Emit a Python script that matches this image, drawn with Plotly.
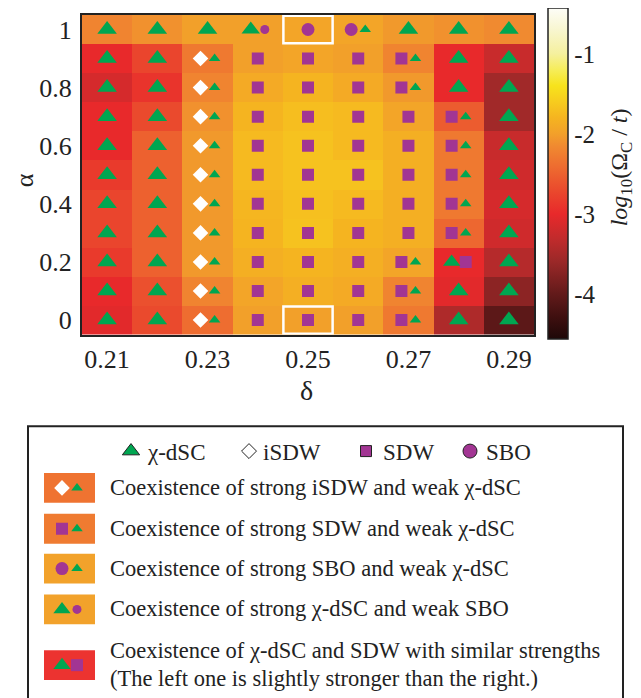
import plotly.graph_objects as go

# ---------------- data ----------------
deltas = [0.21, 0.22, 0.23, 0.24, 0.25, 0.26, 0.27, 0.28, 0.29]
alphas = [0.0, 0.1, 0.2, 0.3, 0.4, 0.5, 0.6, 0.7, 0.8, 0.9, 1.0]

# log10(Omega_C / t), rows = alpha (0 -> 1), cols = delta
z_a00 = [-3.05, -2.70, -2.40, -2.00, -2.00, -2.00, -2.30, -3.45, -4.05]
z_a01 = [-3.00, -2.65, -2.20, -1.95, -1.85, -1.90, -2.20, -3.05, -3.70]
z_a02 = [-2.85, -2.50, -2.05, -1.85, -1.80, -1.85, -1.95, -3.00, -3.40]
z_a03 = [-2.75, -2.50, -2.05, -1.80, -1.68, -1.80, -1.85, -2.45, -3.20]
z_a04 = [-2.75, -2.50, -2.05, -1.78, -1.70, -1.75, -1.85, -2.30, -3.15]
z_a05 = [-2.85, -2.50, -2.05, -1.75, -1.68, -1.68, -1.85, -2.30, -3.20]
z_a06 = [-3.00, -2.50, -2.05, -1.75, -1.68, -1.75, -1.85, -2.30, -3.25]
z_a07 = [-3.00, -2.70, -2.10, -1.80, -1.72, -1.75, -1.95, -2.55, -3.55]
z_a08 = [-3.15, -2.90, -2.20, -1.90, -1.80, -1.90, -2.05, -3.00, -3.55]
z_a09 = [-3.00, -2.75, -2.30, -2.00, -1.95, -2.00, -2.20, -3.00, -3.25]
z_a10 = [-2.20, -2.10, -2.00, -2.00, -1.95, -1.95, -2.05, -2.10, -2.15]
z_grid = [z_a00, z_a01, z_a02, z_a03, z_a04, z_a05, z_a06, z_a07, z_a08, z_a09, z_a10]

# phase codes per cell
# T: chi-dSC, S: SDW, C: SBO, Dt: strong iSDW + weak dSC, St: strong SDW + weak dSC,
# Tc: strong dSC + weak SBO, Ct: strong SBO + weak dSC, TS: dSC ~ SDW
p_a00 = ["T", "T", "Dt", "S", "S", "S", "St", "T", "T"]
p_a01 = ["T", "T", "Dt", "S", "S", "S", "St", "T", "T"]
p_a02 = ["T", "T", "Dt", "S", "S", "S", "St", "TS", "T"]
p_a03 = ["T", "T", "Dt", "S", "S", "S", "S", "St", "T"]
p_a04 = ["T", "T", "Dt", "S", "S", "S", "S", "St", "T"]
p_a05 = ["T", "T", "Dt", "S", "S", "S", "S", "St", "T"]
p_a06 = ["T", "T", "Dt", "S", "S", "S", "S", "St", "T"]
p_a07 = ["T", "T", "Dt", "S", "S", "S", "S", "St", "T"]
p_a08 = ["T", "T", "Dt", "S", "S", "S", "St", "T", "T"]
p_a09 = ["T", "T", "Dt", "S", "S", "S", "St", "T", "T"]
p_a10 = ["T", "T", "T", "Tc", "C", "Ct", "T", "T", "T"]
phase_grid = [p_a00, p_a01, p_a02, p_a03, p_a04, p_a05, p_a06, p_a07, p_a08, p_a09, p_a10]

highlight_cells = [(0.25, 1.0), (0.25, 0.0)]

x_tick_vals = [0.21, 0.23, 0.25, 0.27, 0.29]
x_tick_text = ["0.21", "0.23", "0.25", "0.27", "0.29"]
y_tick_vals = [0.0, 0.2, 0.4, 0.6, 0.8, 1.0]
y_tick_text = ["0", "0.2", "0.4", "0.6", "0.8", "1"]
cb_tick_vals = [-4, -3, -2, -1]
cb_tick_text = ["-4", "-3", "-2", "-1"]

legend_header = ["χ-dSC", "iSDW", "SDW", "SBO"]
legend_rows = [
    "Coexistence of strong iSDW and weak χ-dSC",
    "Coexistence of strong SDW and weak χ-dSC",
    "Coexistence of strong SBO and weak χ-dSC",
    "Coexistence of strong χ-dSC and weak SBO",
    "Coexistence of χ-dSC and SDW with similar strengths",
]
legend_row5_extra = "(The left one is slightly stronger than the right.)"
legend_row_codes = ["Dt", "St", "Ct", "Tc", "TS"]

# ---------------- style ----------------
OFF = 8                      # browser body margin
SW, SH = 641, 698            # screen size
W, H = SW - OFF, SH - OFF    # figure size
FONT = "Liberation Serif"
GREEN = "#00a651"
PURPLE = "#a23593"
ZMIN, ZMAX = -4.56, -0.43


def fx(s):  # screen x -> paper fraction
    return (s - OFF) / W


def fy(s):  # screen y -> paper fraction
    return 1 - (s - OFF) / H


stops = [
    (-4.56, "#1e0808"), (-4.30, "#3d0f0f"), (-4.00, "#621a1a"), (-3.60, "#9a2828"),
    (-3.30, "#c22b2c"), (-3.00, "#e8292b"), (-2.70, "#ea4a2d"), (-2.40, "#ee6d30"),
    (-2.15, "#f08a30"), (-2.00, "#f2a02a"), (-1.80, "#f5b420"), (-1.60, "#f7cc1e"),
    (-1.40, "#f7e31c"), (-1.20, "#f6ed5a"), (-1.00, "#f5f09e"), (-0.70, "#f8f6d0"),
    (-0.43, "#fdfdf8"),
]
colorscale = [[(v - ZMIN) / (ZMAX - ZMIN), c] for v, c in stops]

# marker definitions: code -> list of (kind, offset sign, size)
code_parts = {
    "T": [("tri", 0, 17)],
    "C": [("circ", 0, 13)],
    "S": [("sq", 0, 12)],
    "Dt": [("dia", -1, 12), ("tri", 1, 10)],
    "St": [("sq", -1, 12), ("tri", 1, 10)],
    "Tc": [("tri", -1, 16), ("circ", 1, 9)],
    "Ct": [("circ", -1, 13), ("tri", 1, 10)],
    "TS": [("tri", -1, 15), ("sq", 1, 12)],
}
kind_style = {
    "tri": ("triangle-up", GREEN),
    "circ": ("circle", PURPLE),
    "sq": ("square", PURPLE),
    "dia": ("diamond", "white"),
}

fig = go.Figure()

fig.add_trace(go.Heatmap(
    x=deltas, y=alphas, z=z_grid, zmin=ZMIN, zmax=ZMAX,
    colorscale=colorscale, hoverinfo="skip",
    colorbar=dict(
        x=fx(548), xanchor="left", y=fy(171.5), yanchor="middle",
        len=331, lenmode="pixels", thickness=20, thicknessmode="pixels",
        xpad=0, ypad=0,
        outlinecolor="#222", outlinewidth=1.5,
        tickvals=cb_tick_vals, ticktext=cb_tick_text, ticks="",
        tickfont=dict(family=FONT, size=25, color="#222"),
    ),
))

# markers on heatmap
dx = deltas[1] - deltas[0]
groups = {}
for i, a in enumerate(alphas):
    for j, d in enumerate(deltas):
        for kind, sgn, size in code_parts[phase_grid[i][j]]:
            key = (kind, size)
            groups.setdefault(key, ([], []))
            groups[key][0].append(d + sgn * 0.14 * dx)
            groups[key][1].append(a)
for (kind, size), (xs, ys) in groups.items():
    sym, col = kind_style[kind]
    fig.add_trace(go.Scatter(
        x=xs, y=ys, mode="markers", hoverinfo="skip",
        marker=dict(symbol=sym, size=size, color=col, line=dict(width=0)),
    ))

dy = alphas[1] - alphas[0]
for (hd, ha) in highlight_cells:
    fig.add_shape(type="rect", xref="x", yref="y",
                  x0=hd - dx / 2 + 0.0001, x1=hd + dx / 2 - 0.0001,
                  y0=ha - dy / 2 + 0.003, y1=ha + dy / 2 - 0.003,
                  line=dict(color="white", width=2.5))

# ---------------- legend (screen-pixel axes) ----------------
LX = dict(xaxis="x2", yaxis="y2")
fig.add_shape(type="rect", xref="x2", yref="y2", x0=28, x1=623, y0=425, y1=720,
              line=dict(color="#222", width=2))

hdr_y = 450
hdr_marker_x = [131, 249, 366, 470]
hdr_text_x = [145, 261, 381, 484]
hdr_syms = [("triangle-up", GREEN, 15), ("diamond", "white", 11.5),
            ("square", PURPLE, 11), ("circle", PURPLE, 14)]
for (sym, col, size), mx in zip(hdr_syms, hdr_marker_x):
    fig.add_trace(go.Scatter(x=[mx], y=[hdr_y], mode="markers", hoverinfo="skip",
                             cliponaxis=False, **LX,
                             marker=dict(symbol=sym, size=size, color=col,
                                         line=dict(color="#222", width=1))))
for txt, tx in zip(legend_header, hdr_text_x):
    fig.add_annotation(xref="x2", yref="y2", x=tx, y=hdr_y + 1, text=txt,
                       showarrow=False, xanchor="left", yanchor="middle",
                       font=dict(family=FONT, size=23, color="#222"))

sw_top = [472, 513, 553, 594, 650]
sw_h = 30
sw_colors = ["#ef7331", "#ef7b31", "#f2a22b", "#f2a22b", "#ec3330"]
text_y = [487, 528, 568, 608, 650]
for k, (code, top, col) in enumerate(zip(legend_row_codes, sw_top, sw_colors)):
    fig.add_shape(type="rect", xref="x2", yref="y2", x0=44, x1=95, y0=top, y1=top + sw_h,
                  fillcolor=col, line=dict(width=0), layer="below")
    cy = top + sw_h / 2
    for kind, sgn, size in code_parts[code]:
        sym, mcol = kind_style[kind]
        if kind == "tri":
            size = min(size, 15)
        fig.add_trace(go.Scatter(x=[69.5 + sgn * 7.5], y=[cy], mode="markers",
                                 hoverinfo="skip", cliponaxis=False, **LX,
                                 marker=dict(symbol=sym, size=size, color=mcol,
                                             line=dict(width=0))))
    fig.add_annotation(xref="x2", yref="y2", x=108, y=text_y[k], text=legend_rows[k],
                       showarrow=False, xanchor="left", yanchor="middle",
                       font=dict(family=FONT, size=22.5, color="#222"))
fig.add_annotation(xref="x2", yref="y2", x=108, y=678, text=legend_row5_extra,
                   showarrow=False, xanchor="left", yanchor="middle",
                   font=dict(family=FONT, size=22.5, color="#222"))

# axis labels & colorbar title
fig.add_annotation(xref="paper", yref="paper", x=fx(24), y=fy(178), text="α",
                   textangle=-90, showarrow=False, xanchor="center", yanchor="middle",
                   font=dict(family=FONT, size=26, color="#222"))
fig.add_annotation(xref="paper", yref="paper", x=fx(306), y=fy(389), text="δ",
                   showarrow=False, xanchor="center", yanchor="middle",
                   font=dict(family=FONT, size=28, color="#222"))
fig.add_annotation(xref="paper", yref="paper", x=fx(621), y=fy(165),
                   text="<i>log</i><sub>10</sub>(Ω<sub>C</sub> / <i>t</i>)",
                   textangle=-90, showarrow=False, xanchor="center", yanchor="middle",
                   font=dict(family=FONT, size=24, color="#222"))

fig.update_layout(
    width=W, height=H, margin=dict(l=0, r=0, t=0, b=0),
    paper_bgcolor="white", plot_bgcolor="white", showlegend=False,
    xaxis=dict(domain=[fx(82), fx(534)], range=[0.205, 0.295],
               tickvals=x_tick_vals, ticktext=x_tick_text,
               tickfont=dict(family=FONT, size=26, color="#222"),
               ticks="", ticklabelstandoff=0,
               showline=True, mirror=True, linecolor="#222", linewidth=2,
               showgrid=False, zeroline=False, anchor="y"),
    yaxis=dict(domain=[fy(333), fy(12)], range=[-0.05, 1.05],
               tickvals=y_tick_vals, ticktext=y_tick_text,
               tickfont=dict(family=FONT, size=26, color="#222"),
               ticks="", ticklabelstandoff=3,
               showline=True, mirror=True, linecolor="#222", linewidth=2,
               showgrid=False, zeroline=False, anchor="x"),
    xaxis2=dict(domain=[0, 1], range=[OFF, SW], visible=False, anchor="y2"),
    yaxis2=dict(domain=[0, fy(410)], range=[SH, 410], visible=False, anchor="x2"),
)

fig.write_html("out.html")
